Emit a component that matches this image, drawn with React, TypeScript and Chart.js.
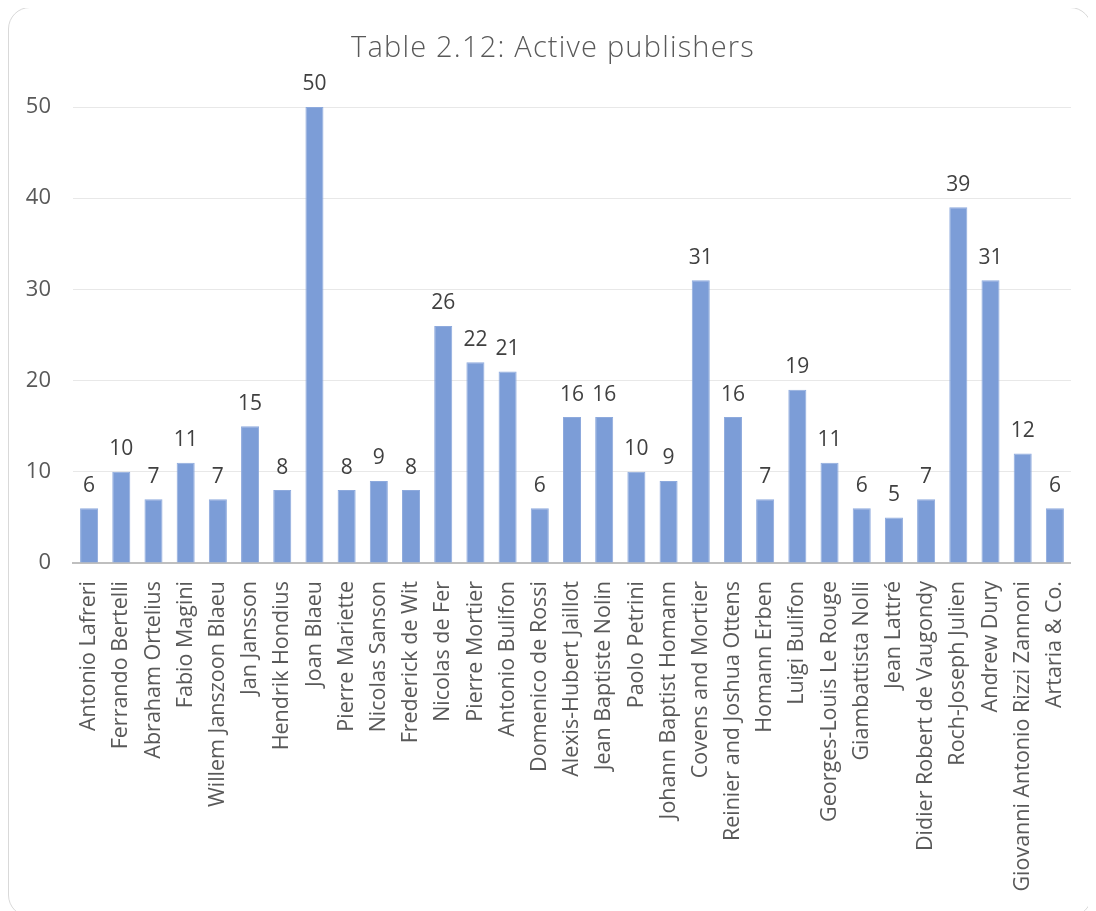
import React, { useEffect, useRef } from "react";
import { Chart, registerables } from "chart.js";

Chart.register(...registerables);

const categories: string[] = [
  "Antonio Lafreri",
  "Ferrando Bertelli",
  "Abraham Ortelius",
  "Fabio Magini",
  "Willem Janszoon Blaeu",
  "Jan Jansson",
  "Hendrik Hondius",
  "Joan Blaeu",
  "Pierre Mariette",
  "Nicolas Sanson",
  "Frederick de Wit",
  "Nicolas de Fer",
  "Pierre Mortier",
  "Antonio Bulifon",
  "Domenico de Rossi",
  "Alexis-Hubert Jaillot",
  "Jean Baptiste Nolin",
  "Paolo Petrini",
  "Johann Baptist Homann",
  "Covens and Mortier",
  "Reinier and Joshua Ottens",
  "Homann Erben",
  "Luigi Bulifon",
  "Georges-Louis Le Rouge",
  "Giambattista Nolli",
  "Jean Lattré",
  "Didier Robert de Vaugondy",
  "Roch-Joseph Julien",
  "Andrew Dury",
  "Giovanni Antonio Rizzi Zannoni",
  "Artaria & Co.",
];

const values: number[] = [
  6, 10, 7, 11, 7, 15, 8, 50, 8, 9, 8, 26, 22, 21, 6, 16, 16, 10, 9, 31, 16, 7,
  19, 11, 6, 5, 7, 39, 31, 12, 6,
];

const yTicks: number[] = [0, 10, 20, 30, 40, 50];

const titleText = "Table 2.12: Active publishers";
const FONT = "'Open Sans', 'Noto Sans', sans-serif";

const titlePlugin = {
  id: "customTitle",
  afterDraw(chart: any) {
    const ctx = chart.ctx;
    ctx.save();
    ctx.font = `300 29px ${FONT}`;
    (ctx as any).letterSpacing = "1.2px";
    ctx.fillStyle = "#595959";
    ctx.textAlign = "center";
    ctx.textBaseline = "alphabetic";
    ctx.fillText(titleText, 544, 49);
    ctx.restore();
  },
};

const dataLabelPlugin = {
  id: "dataLabels",
  afterDatasetsDraw(chart: any) {
    const ctx = chart.ctx;
    const meta = chart.getDatasetMeta(0);
    ctx.save();
    ctx.font = `21px ${FONT}`;
    ctx.fillStyle = "#404040";
    ctx.textAlign = "center";
    ctx.textBaseline = "bottom";
    meta.data.forEach((bar: any, i: number) => {
      ctx.fillText(String(values[i]), bar.x, bar.y - 12);
    });
    ctx.restore();
  },
};

export default function App() {
  const canvasRef = useRef<HTMLCanvasElement | null>(null);

  useEffect(() => {
    if (!canvasRef.current) return;
    const chart = new Chart(canvasRef.current, {
      type: "bar",
      data: {
        labels: categories,
        datasets: [
          {
            data: values,
            backgroundColor: "#7c9dd7",
            borderColor: "#8eaadd",
            borderWidth: 1,
            categoryPercentage: 1,
            barPercentage: 0.56,
          },
        ],
      },
      options: {
        responsive: false,
        animation: false,
        layout: { padding: { left: 0, right: 19, top: 99, bottom: 0 } },
        plugins: {
          legend: { display: false },
          tooltip: { enabled: false },
          title: { display: false },
        },
        scales: {
          x: {
            grid: { display: false },
            border: { color: "#bfbfbf", width: 2 },
            ticks: {
              color: "#595959",
              font: { family: FONT, size: 21.5 },
              maxRotation: 90,
              minRotation: 90,
              autoSkip: false,
              padding: 10,
            },
            afterFit(scale: any) {
              scale.height = 345;
            },
          },
          y: {
            min: 0,
            max: 50,
            afterBuildTicks(scale: any) {
              scale.ticks = yTicks.map((v) => ({ value: v }));
            },
            grid: { color: "#e8e8e8", drawTicks: false },
            border: { display: false },
            ticks: {
              color: "#595959",
              font: { family: FONT, size: 22 },
              padding: 22,
            },
            afterFit(scale: any) {
              scale.width = 64;
            },
          },
        },
      },
      plugins: [dataLabelPlugin, titlePlugin],
    });
    return () => chart.destroy();
  }, []);

  return (
    <div
      style={{
        width: 1084,
        height: 910,
        marginTop: -1,
        border: "1px solid #d9d9d9",
        borderRadius: 22,
        boxSizing: "border-box",
        overflow: "hidden",
        background: "#fff",
      }}
    >
      <canvas ref={canvasRef} width={1082} height={900} style={{ display: "block" }} />
    </div>
  );
}
